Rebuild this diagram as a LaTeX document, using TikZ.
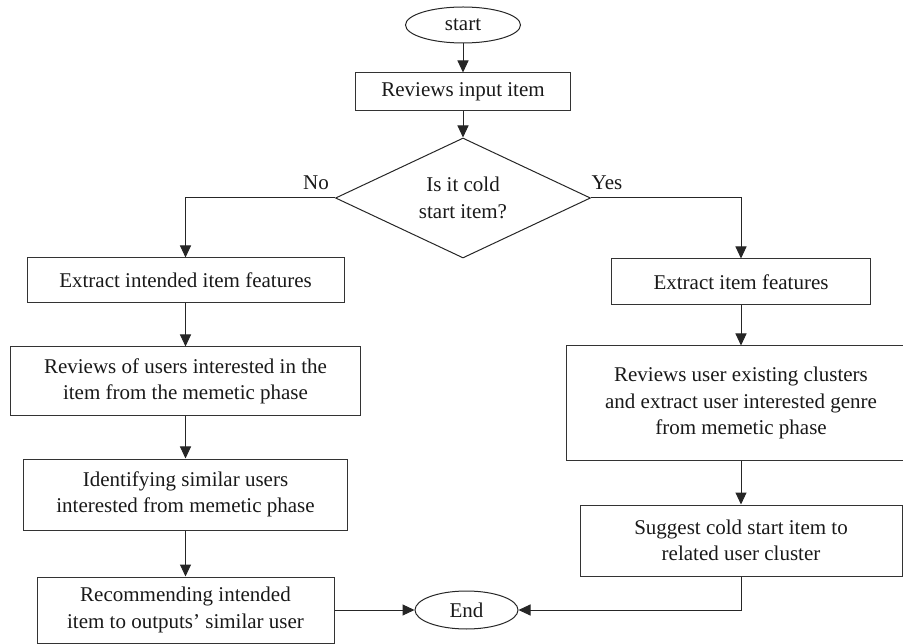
\documentclass[tikz,border=0pt]{standalone}
\usepackage{fontspec}
\setmainfont{Liberation Serif}
\usetikzlibrary{arrows.meta,shapes.geometric}
\begin{document}
\begin{tikzpicture}[x=1pt,y=-1pt,
 every node/.style={font=\fontsize{21}{26.5}\selectfont, text=black!90},
 box/.style={draw=black!80, line width=1pt, rectangle, inner sep=0pt, align=center},
 term/.style={draw=black!85, line width=1pt, ellipse, inner sep=0pt},
 decision/.style={draw=black!85, line width=1pt, diamond, aspect=2.125, inner sep=0pt, align=center},
 conn/.style={line width=1pt, draw=black!85, -{Triangle[length=12pt,width=11pt]}},
 lbl/.style={inner sep=0pt},
]
\useasboundingbox (0,0) rectangle (903,644);
\node[term, minimum width=115pt, minimum height=36pt] (start) at (463,25) {start};
\node[box, minimum width=215pt, minimum height=38pt] (rin) at (463,92) {Reviews input item};
\node[decision, minimum width=255pt, minimum height=120pt] (dec) at (463,198) {Is it cold\\start item?};
\node[lbl] (no) at (316,183) {No};
\node[lbl] (yes) at (607,183) {Yes};
% left column
\node[box, minimum width=317pt, minimum height=45pt] (ei) at (185.5,280.5) {Extract intended item features};
\node[box, minimum width=350pt, minimum height=69pt] (rou) at (185.5,381.5) {Reviews of users interested in the\\item from the memetic phase};
\node[box, minimum width=324pt, minimum height=71pt] (ident) at (185.5,494.5) {Identifying similar users\\interested from memetic phase};
\node[box, minimum width=297pt, minimum height=66pt] (rec) at (185.5,610) {Recommending intended\\item to outputs' similar user};
% right column
\node[box, minimum width=259pt, minimum height=46pt] (ef) at (741,282) {Extract item features};
\node[box, minimum width=350pt, minimum height=114pt] (ruc) at (741,403) {Reviews user existing clusters\\and extract user interested genre\\from memetic phase};
\node[box, minimum width=322pt, minimum height=71pt] (sug) at (741,540.5) {Suggest cold start item to\\related user cluster};
% end
\node[term, minimum width=103pt, minimum height=38pt] (end) at (466.5,610) {End};
% connectors
\draw[conn] (start) -- (rin);
\draw[conn] (rin) -- (dec);
\draw[conn] (dec.west) -| (ei.north);
\draw[conn] (dec.east) -| (ef.north);
\draw[conn] (ei) -- (rou);
\draw[conn] (rou) -- (ident);
\draw[conn] (ident) -- (rec);
\draw[conn] (ef) -- (ruc);
\draw[conn] (ruc) -- (sug);
\draw[conn] (rec.east) -- (end.west);
\draw[conn] (sug.south) |- (end.east);
\end{tikzpicture}
\end{document}
